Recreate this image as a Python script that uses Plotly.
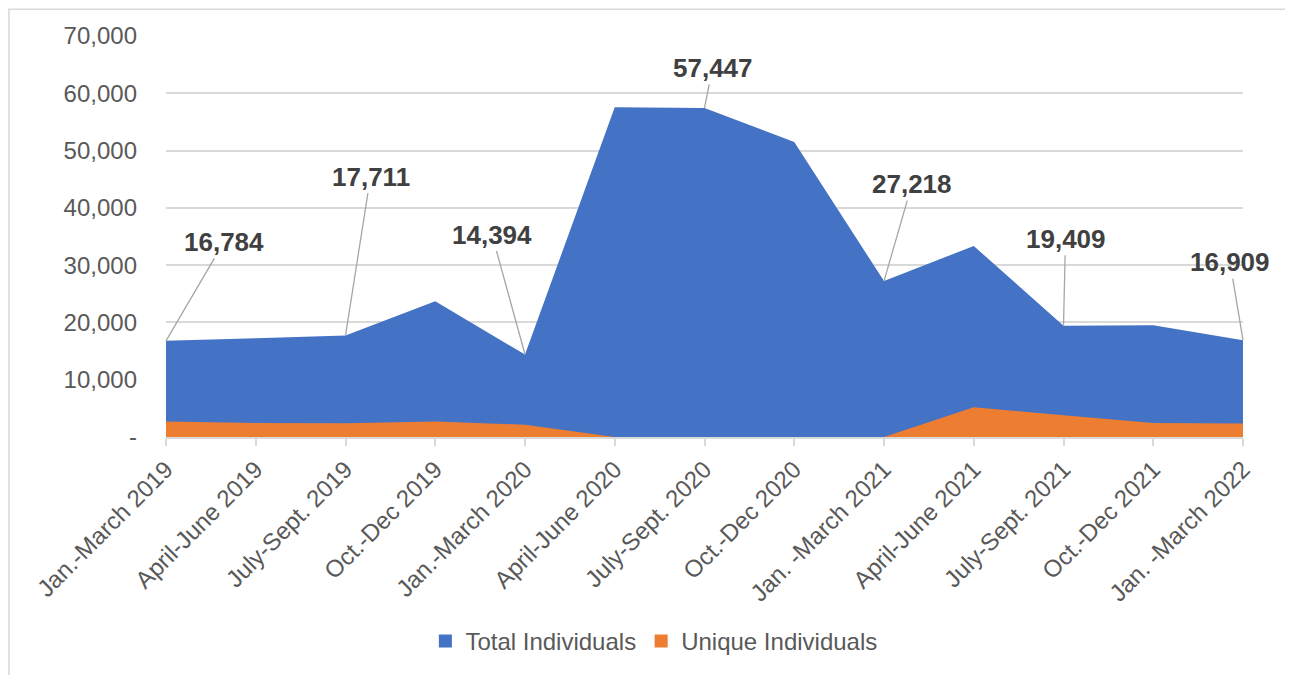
import plotly.graph_objects as go

# ---------------------------------------------------------------------------
# Data
# ---------------------------------------------------------------------------
quarters = [
    "Jan.-March 2019", "April-June 2019", "July-Sept. 2019", "Oct.-Dec 2019",
    "Jan.-March 2020", "April-June 2020", "July-Sept. 2020", "Oct.-Dec 2020",
    "Jan. -March 2021", "April-June 2021", "July-Sept. 2021", "Oct.-Dec 2021",
    "Jan. -March 2022",
]
total_individuals = [16784, 17250, 17711, 23700, 14394, 57550, 57447, 51500,
                     27218, 33350, 19409, 19500, 16909]
unique_individuals = [2700, 2450, 2400, 2700, 2150, 0, 0, 0,
                      0, 5200, 3800, 2450, 2350]

# which points carry a callout label, and the callout offset (px)
label_idx = [0, 2, 4, 6, 8, 10, 12]
label_dx = [58, 25, -33, 8, 28, 2, -13]
label_dy = [-99, -159, -120, -40, -97, -87, -78]

y_ticks = [0, 10000, 20000, 30000, 40000, 50000, 60000, 70000]
y_ticktext = ["-", "10,000", "20,000", "30,000", "40,000", "50,000", "60,000", "70,000"]

BLUE = "#4472C4"
ORANGE = "#ED7D31"
GRID = "#d9d9d9"
FONT = "Liberation Sans, Arial, sans-serif"

fig = go.Figure()

# areas (overlapping, not stacked)
fig.add_trace(go.Scatter(
    x=quarters, y=total_individuals, name="Total Individuals",
    mode="none", fill="tozeroy", fillcolor=BLUE, showlegend=False,
))
fig.add_trace(go.Scatter(
    x=quarters, y=unique_individuals, name="Unique Individuals",
    mode="none", fill="tozeroy", fillcolor=ORANGE, showlegend=False,
))

# legend-only entries with square swatches
for name, color in [("Total Individuals", BLUE), ("Unique Individuals", ORANGE)]:
    fig.add_trace(go.Scatter(
        x=[None], y=[None], name=name, mode="markers",
        marker=dict(symbol="square", size=13, color=color),
    ))

# callout labels with leader lines
for i, dx, dy in zip(label_idx, label_dx, label_dy):
    fig.add_annotation(
        x=quarters[i], y=total_individuals[i],
        text=f"<b>{total_individuals[i]:,}</b>",
        showarrow=True, arrowhead=0, arrowwidth=1.3, arrowcolor="#a6a6a6",
        ax=dx, ay=dy, standoff=0,
        font=dict(family=FONT, size=26, color="#404040"),
    )

# outer chart border
fig.add_shape(
    type="rect", xref="paper", yref="paper",
    x0=-0.1458, x1=1.0427, y0=-0.65, y1=1.067,
    line=dict(color=GRID, width=1.5), layer="below",
)

fig.update_layout(
    width=1293, height=675,
    margin=dict(l=158, r=58, t=28, b=246),
    paper_bgcolor="white", plot_bgcolor="white",
    font=dict(family=FONT, size=24, color="#595959"),
    showlegend=True,
    legend=dict(orientation="h", x=0.453, xanchor="center", y=-0.51,
                yanchor="middle", font=dict(size=24, color="#595959"),
                itemwidth=30, tracegroupgap=0),
)

fig.update_xaxes(
    type="category", range=[0, len(quarters) - 1],
    tickangle=-45, tickfont=dict(size=24, color="#595959"),
    showgrid=False, showline=True, linecolor=GRID, linewidth=1.5,
    ticks="outside", ticklen=7, tickcolor=GRID, tickwidth=1.5,
)
fig.update_yaxes(
    range=[0, 70000], tickvals=y_ticks, ticktext=y_ticktext,
    tickfont=dict(size=24, color="#595959"),
    showgrid=True, gridcolor=GRID, gridwidth=1.5, zeroline=False,
    ticklabelstandoff=28,
)

fig.write_html("out.html")
